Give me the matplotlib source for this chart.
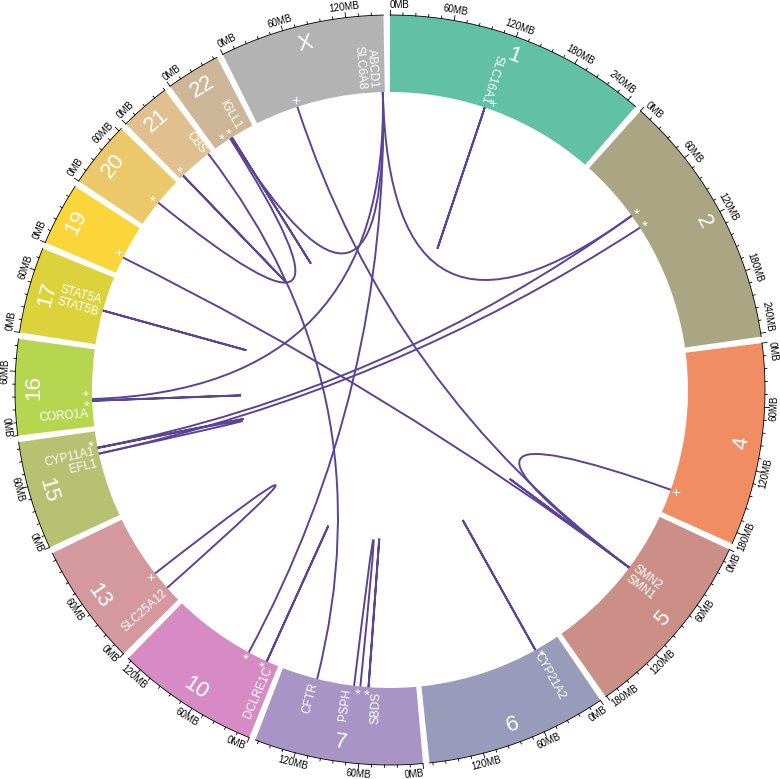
import numpy as np
import matplotlib.pyplot as plt
from matplotlib.patches import Wedge, PathPatch
from matplotlib.path import Path

plt.rcParams['font.family'] = ['Liberation Sans', 'DejaVu Sans']

# chromosomes shown, clockwise from the top
chroms = ['1', '2', '4', '5', '6', '7', '10', '13', '15', '16', '17', '19', '20', '21', '22', 'X']
lengths = [249.25, 243.2, 191.15, 180.9, 171.1, 159.1, 135.5, 115.2, 102.5, 90.35,
           81.2, 59.1, 63.0, 48.1, 51.3, 155.3]
colors = ['#62C1A3', '#AAA582', '#F08D62', '#CC8F87', '#989CBA', '#A994C6', '#D68BC4',
          '#D4999E', '#B6C272', '#B6D551', '#DCD33C', '#FAD63B', '#EBC96A', '#E0C08E',
          '#CDB798', '#B3B3B3']

# links (chrom, MB) <-> (chrom, MB)
links = [
    ('1', 113, '1', 113),
    ('X', 51, '5', 69.5),
    ('X', 153, '22', 22),
    ('X', 153, '16', 32),
    ('X', 153, '10', 38),
    ('X', 153, '2', 75),
    ('22', 23.5, '22', 23.5),
    ('22', 21, '20', 31),
    ('21', 44, '7', 117),
    ('21', 5, '21', 5),
    ('19', 19.6, '5', 69.5),
    ('17', 40.4, '17', 40.4),
    ('16', 30, '16', 30),
    ('15', 83, '2', 75),
    ('15', 76, '2', 92),
    ('15', 83, '15', 83),
    ('15', 76, '15', 83),
    ('13', 19, '13', 41),
    ('10', 14.4, '10', 14.4),
    ('7', 73, '7', 65.6),
    ('7', 56, '7', 56),
    ('6', 30, '6', 30),
    ('5', 69.5, '5', 69.5),
    ('5', 69.5, '4', 163),
]

markers = [('1', 120, '+'), ('X', 51, '+'), ('22', 14, '*'), ('22', 24, '*'),
           ('21', 6, '*'), ('20', 30, '*'), ('19', 22, '+'), ('16', 38, '*'),
           ('16', 26, '*'), ('15', 89, '*'), ('13', 40, '+'), ('10', 38, '*'),
           ('10', 17.4, '*'), ('7', 67.5, '*'), ('7', 57, '*'), ('6', 26, '*'),
           ('4', 165, '+'), ('2', 75, '*'), ('2', 92, '*')]

genes = [('1', 110, 'SLC16A1'), ('X', 136, 'ABCD1\nSLC6A8'), ('22', 35, 'IGLL1'),
         ('21', 40.8, 'CBS'), ('17', 43.5, 'STAT5A\nSTAT5B'), ('16', 15, 'CORO1A'),
         ('15', 72.5, 'CYP11A1\nEFL1'), ('13', 16.6, 'SLC25A12'), ('10', 8.8, 'DCLRE1C'),
         ('7', 119, 'CFTR'), ('7', 79.6, 'PSPH'), ('7', 46.2, 'SBDS'),
         ('6', 31, 'CYP21A2'), ('5', 73, 'SMN2\nSMN1')]

GAP = 1.0
R_OUT, R_IN = 375, 298
LINK_COLOR = '#5B4396'

k = (360 - GAP * len(chroms)) / sum(lengths)
starts = {}
a = 0.0
for c, L in zip(chroms, lengths):
    starts[c] = a
    a += L * k + GAP


def ang(c, mb):
    return starts[c] + mb * k


def pol(theta, r):
    t = np.radians(theta)
    return r * np.sin(t), r * np.cos(t)


def is_bottom(theta):
    return 90 < theta % 360 < 270


def tang_rot(theta):
    th = theta % 360
    return 180 - th if is_bottom(th) else -th


fig = plt.figure(figsize=(7.8, 7.79), dpi=100)
ax = fig.add_axes([0, 0, 1, 1])
ax.set_xlim(-390, 390)
ax.set_ylim(-389, 390)
ax.set_aspect('equal')
ax.axis('off')

for c, L, col in zip(chroms, lengths, colors):
    t0 = starts[c]
    t1 = t0 + L * k
    ax.add_patch(Wedge((0, 0), R_OUT, 90 - t1, 90 - t0, width=R_OUT - R_IN,
                       facecolor=col, edgecolor='none'))
    th = np.linspace(t0, t1, 100)
    ax.plot(R_OUT * np.sin(np.radians(th)), R_OUT * np.cos(np.radians(th)),
            color='black', lw=0.6)
    for mb in np.arange(0, L + 1e-6, 12):
        major = (mb % 60 == 0)
        t = ang(c, mb)
        x0, y0 = pol(t, R_OUT)
        x1, y1 = pol(t, R_OUT + (5 if major else 2.5))
        ax.plot([x0, x1], [y0, y1], color='black', lw=0.6)
        if major:
            lab = '%dMB' % mb
            half = len(lab) * 2.3
            room = np.radians(t1 - t) * R_OUT
            if mb == 0:
                ha = 'right' if is_bottom(t) else 'left'
            elif room < half:
                ha = 'left' if is_bottom(t) else 'right'
            else:
                ha = 'center'
            xt, yt = pol(t, R_OUT + 10)
            ax.text(xt, yt, lab, fontsize=7, ha=ha, va='center',
                    rotation=tang_rot(t), rotation_mode='anchor')
    tm = (t0 + t1) / 2
    xl, yl = pol(tm, 356)
    ax.text(xl, yl, c, fontsize=16, color='white', ha='center', va='center',
            rotation=tang_rot(tm), rotation_mode='anchor')

for c1, m1, c2, m2 in links:
    p0 = pol(ang(c1, m1), R_IN)
    p2 = pol(ang(c2, m2), R_IN)
    path = Path([p0, (0, 0), p2], [Path.MOVETO, Path.CURVE3, Path.CURVE3])
    ax.add_patch(PathPatch(path, facecolor='none', edgecolor=LINK_COLOR, lw=1.4))

for c, mb, s in markers:
    x, y = pol(ang(c, mb), R_IN + 6)
    dy = -2.5 if s == '*' else 0
    ax.text(x, y + dy, s, fontsize=11, color='white', ha='center', va='center')

for c, mb, name in genes:
    t = ang(c, mb) % 360
    if 90 <= t < 180:
        rot, ha = 90 - t, 'left'
    else:
        rot, ha = (270 - t + 180) % 360 - 180, 'right'
    x, y = pol(t, R_IN + 4)
    ax.text(x, y, name, fontsize=8.5, color='white', ha=ha, va='center',
            multialignment=ha, rotation=rot, rotation_mode='anchor', linespacing=1.0)

fig.savefig('out.png', dpi=100)
